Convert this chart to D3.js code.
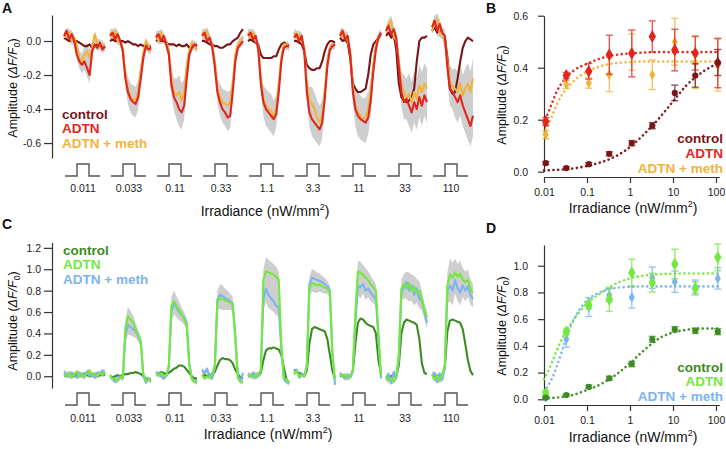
<!DOCTYPE html>
<html><head><meta charset="utf-8">
<script src="https://cdn.jsdelivr.net/npm/d3@7"></script>
<style>
body{margin:0;background:#fff;}
svg{display:block;font-family:"Liberation Sans",Arial,Helvetica,sans-serif;}
.axis path,.axis line{stroke:#333;stroke-width:1.2;}
.axis text{font-size:10.5px;fill:#222;font-family:"Liberation Sans",Arial,sans-serif;}
</style></head><body>
<svg id="chart" width="726" height="449"></svg>
<script>
// ---------- DATA ----------
const irradiance = [0.011,0.033,0.11,0.33,1.1,3.3,11,33,110];
const irrLabels = ["0.011","0.033","0.11","0.33","1.1","3.3","11","33","110"];
const seriesNames = ["control","ADTN","ADTN + meth"];

// Panel A traces (17 samples per stimulus window)
const traceA_control = [
[0.02,0.01,0.0,0.01,0.0,0.0,-0.01,-0.02,-0.03,-0.03,-0.02,-0.04,-0.03,-0.02,-0.03,-0.03,-0.04],
[0.0,0.01,0.0,0.0,0.0,0.0,-0.01,0.0,-0.01,-0.02,-0.02,-0.03,-0.02,-0.03,-0.02,-0.03,-0.04],
[0.0,0.01,0.0,0.0,-0.01,-0.02,-0.02,-0.02,-0.03,-0.02,-0.03,-0.03,-0.02,-0.04,-0.03,-0.03,-0.02],
[0.0,0.0,-0.01,-0.02,-0.02,-0.03,-0.03,-0.04,-0.04,-0.03,-0.02,-0.02,0.0,0.01,0.02,0.05,0.07],
[0.0,0.01,0.0,-0.01,-0.02,-0.08,-0.1,-0.1,-0.1,-0.1,-0.09,-0.09,-0.05,-0.02,-0.01,-0.02,-0.03],
[0.0,0.0,-0.01,-0.02,-0.06,-0.14,-0.16,-0.17,-0.17,-0.16,-0.16,-0.12,-0.06,-0.02,0.0,0.0,-0.01],
[0.02,0.0,0.01,-0.01,-0.1,-0.25,-0.28,-0.3,-0.3,-0.29,-0.28,-0.2,-0.08,-0.02,0.0,0.02,0.04],
[0.03,0.05,0.02,0.04,-0.05,-0.25,-0.33,-0.35,-0.36,-0.35,-0.33,-0.28,-0.12,0.0,0.02,0.02,0.03],
[0.06,0.08,0.05,0.07,0.04,0.02,-0.1,-0.28,-0.31,-0.3,-0.22,-0.12,-0.04,0.0,0.02,0.01,0.0]
];
const traceA_adtn = [
[0.03,0.06,0.01,0.04,0.0,-0.08,-0.12,-0.14,-0.12,-0.16,-0.2,-0.06,-0.02,-0.04,-0.01,-0.05,-0.03],
[0.03,0.05,0.01,0.04,0.0,-0.06,-0.22,-0.3,-0.34,-0.36,-0.37,-0.33,-0.22,-0.1,-0.03,-0.05,-0.04],
[0.02,0.04,0.0,0.03,-0.02,-0.08,-0.26,-0.33,-0.36,-0.4,-0.42,-0.38,-0.22,-0.08,-0.04,-0.02,-0.03],
[0.03,0.05,0.0,0.02,-0.04,-0.15,-0.3,-0.36,-0.4,-0.42,-0.45,-0.44,-0.3,-0.12,-0.04,-0.02,0.0],
[0.03,0.05,0.01,0.03,-0.05,-0.25,-0.36,-0.4,-0.42,-0.44,-0.46,-0.43,-0.3,-0.12,-0.04,-0.03,-0.03],
[0.02,0.04,0.0,0.03,-0.06,-0.3,-0.42,-0.46,-0.48,-0.5,-0.52,-0.48,-0.34,-0.15,-0.05,-0.03,-0.02],
[0.03,0.06,0.01,0.03,-0.08,-0.3,-0.4,-0.44,-0.46,-0.47,-0.48,-0.45,-0.35,-0.18,-0.05,0.02,0.05],
[0.06,0.09,0.04,0.07,0.02,-0.15,-0.3,-0.36,-0.34,-0.38,-0.42,-0.36,-0.4,-0.33,-0.38,-0.32,-0.36],
[0.08,0.12,0.06,0.1,0.05,0.03,-0.15,-0.28,-0.3,-0.33,-0.36,-0.32,-0.38,-0.42,-0.46,-0.5,-0.44]
];
const traceA_meth = [
[0.02,0.04,0.05,0.0,0.02,-0.03,-0.1,-0.12,-0.08,-0.06,-0.1,-0.04,0.04,-0.01,-0.03,-0.02,-0.04],
[0.05,0.02,0.06,0.0,-0.01,-0.04,-0.2,-0.28,-0.33,-0.34,-0.35,-0.3,-0.18,-0.07,0.0,-0.03,-0.06],
[0.04,0.0,0.05,0.01,0.0,-0.05,-0.22,-0.3,-0.32,-0.3,-0.35,-0.3,-0.15,-0.06,-0.01,-0.03,-0.05],
[0.05,0.02,0.06,0.0,-0.02,-0.12,-0.28,-0.33,-0.36,-0.37,-0.38,-0.36,-0.25,-0.08,-0.02,0.0,0.02],
[0.05,0.02,0.05,0.0,-0.03,-0.22,-0.34,-0.38,-0.4,-0.41,-0.45,-0.4,-0.26,-0.1,-0.02,-0.02,-0.04],
[0.05,0.02,0.04,0.0,-0.04,-0.25,-0.35,-0.37,-0.4,-0.45,-0.48,-0.44,-0.3,-0.12,-0.04,-0.02,-0.03],
[0.05,0.02,0.04,0.0,-0.06,-0.26,-0.38,-0.42,-0.44,-0.46,-0.45,-0.4,-0.3,-0.14,-0.03,0.03,0.04],
[0.05,0.1,0.12,0.03,0.0,-0.12,-0.26,-0.3,-0.34,-0.31,-0.36,-0.3,-0.34,-0.26,-0.3,-0.25,-0.28],
[0.06,0.1,0.13,0.05,0.04,0.0,-0.12,-0.24,-0.27,-0.28,-0.3,-0.25,-0.32,-0.28,-0.25,-0.3,-0.22]
];
const traceA_sem = [
[0.02,0.02,0.02,0.02,0.02,0.03,0.04,0.05,0.05,0.05,0.05,0.03,0.02,0.02,0.02,0.02,0.02],
[0.02,0.02,0.02,0.02,0.02,0.03,0.05,0.07,0.08,0.08,0.08,0.07,0.05,0.03,0.02,0.02,0.02],
[0.02,0.02,0.02,0.02,0.02,0.03,0.06,0.08,0.1,0.1,0.1,0.08,0.05,0.03,0.02,0.02,0.02],
[0.02,0.02,0.02,0.02,0.02,0.03,0.06,0.08,0.08,0.08,0.08,0.07,0.05,0.03,0.02,0.02,0.02],
[0.02,0.02,0.02,0.02,0.03,0.05,0.08,0.1,0.1,0.1,0.1,0.08,0.06,0.04,0.02,0.02,0.02],
[0.02,0.02,0.02,0.02,0.03,0.05,0.08,0.1,0.1,0.1,0.1,0.09,0.06,0.04,0.02,0.02,0.02],
[0.02,0.02,0.02,0.02,0.03,0.06,0.1,0.12,0.12,0.12,0.12,0.1,0.08,0.05,0.03,0.02,0.02],
[0.02,0.03,0.03,0.02,0.03,0.05,0.08,0.1,0.12,0.12,0.12,0.12,0.12,0.12,0.12,0.12,0.12],
[0.02,0.03,0.03,0.03,0.03,0.04,0.08,0.1,0.1,0.12,0.12,0.12,0.12,0.12,0.12,0.12,0.12]
];

// Panel C traces
const traceC_control = [
[0.01,0.0,0.02,0.01,0.0,0.01,0.02,0.01,0.02,0.01,0.0,0.01,0.02,0.0,0.01,0.02,0.01],
[0.0,-0.01,0.0,0.01,0.0,0.01,0.02,0.02,0.03,0.03,0.04,0.03,0.02,0.0,-0.02,-0.03,-0.03],
[0.03,0.02,0.04,0.03,0.02,0.03,0.05,0.07,0.08,0.1,0.1,0.09,0.06,0.03,0.0,-0.02,-0.02],
[0.0,0.01,0.0,0.01,0.02,0.04,0.1,0.15,0.17,0.16,0.16,0.15,0.12,0.06,0.02,-0.01,-0.02],
[0.0,0.01,0.0,0.0,0.01,0.03,0.15,0.24,0.26,0.26,0.27,0.26,0.25,0.2,0.08,-0.03,-0.06],
[0.06,0.04,0.03,0.02,0.0,0.05,0.3,0.44,0.46,0.45,0.44,0.43,0.42,0.35,0.2,0.05,-0.02],
[0.0,0.01,0.0,0.0,0.0,0.05,0.3,0.5,0.54,0.53,0.5,0.48,0.47,0.46,0.4,0.15,0.02],
[0.0,-0.01,0.0,0.01,0.0,0.1,0.4,0.5,0.53,0.52,0.51,0.5,0.48,0.35,0.12,0.03,0.02],
[0.01,0.0,0.0,0.01,0.0,0.08,0.42,0.52,0.53,0.52,0.51,0.5,0.44,0.3,0.15,0.05,0.01]
];
const traceC_adtn = [
[0.02,0.0,0.03,-0.01,0.02,0.04,0.0,0.02,-0.01,0.03,0.05,0.01,0.02,0.0,0.03,0.01,0.04],
[0.01,-0.03,-0.02,-0.04,-0.01,-0.02,0.45,0.56,0.53,0.5,0.44,0.38,0.33,0.02,-0.04,-0.03,-0.05],
[0.02,0.01,0.03,0.0,0.01,0.1,0.66,0.7,0.66,0.62,0.58,0.53,0.48,0.1,-0.03,-0.05,-0.04],
[0.01,-0.02,0.0,-0.01,0.02,0.1,0.7,0.73,0.72,0.71,0.7,0.69,0.66,0.35,-0.02,-0.05,-0.06],
[0.0,0.01,-0.01,0.02,0.0,0.05,0.9,0.98,0.97,0.96,0.95,0.93,0.9,0.3,-0.02,-0.03,-0.06],
[0.02,0.05,0.0,0.01,0.0,0.08,0.82,0.87,0.86,0.85,0.86,0.84,0.83,0.82,0.78,0.2,-0.03],
[0.02,0.0,0.01,-0.02,0.0,0.05,0.6,0.98,0.97,0.95,0.92,0.9,0.86,0.83,0.8,0.4,0.0],
[0.0,-0.04,-0.02,-0.05,0.0,0.2,0.82,0.86,0.82,0.87,0.8,0.84,0.78,0.8,0.72,0.62,0.55],
[0.02,-0.03,0.0,-0.04,0.01,0.1,0.85,0.95,0.92,0.97,0.93,0.96,0.9,0.88,0.9,0.82,0.78]
];
const traceC_meth = [
[0.04,0.02,0.0,0.03,0.01,-0.01,0.03,0.0,0.02,0.04,0.0,0.02,-0.01,0.03,0.02,0.05,0.02],
[0.0,-0.02,-0.05,-0.03,0.0,-0.02,0.38,0.48,0.46,0.44,0.42,0.37,0.32,0.0,-0.06,-0.02,-0.04],
[0.04,0.02,0.0,-0.02,0.0,0.08,0.6,0.68,0.64,0.6,0.57,0.55,0.5,0.12,-0.02,-0.04,-0.06],
[0.06,0.03,0.07,0.0,-0.02,0.08,0.72,0.76,0.75,0.73,0.72,0.7,0.68,0.38,0.0,-0.04,0.03],
[0.02,0.0,0.03,-0.01,0.02,0.05,0.72,0.82,0.76,0.73,0.7,0.66,0.64,0.25,-0.03,-0.05,-0.07],
[0.04,0.06,-0.01,0.02,0.0,0.1,0.86,0.92,0.91,0.9,0.89,0.88,0.86,0.84,0.8,0.2,-0.08],
[0.03,0.0,-0.02,0.01,-0.01,0.04,0.5,0.85,0.83,0.86,0.8,0.82,0.78,0.75,0.72,0.35,-0.02],
[-0.03,0.02,-0.06,0.04,-0.02,0.15,0.78,0.83,0.88,0.8,0.85,0.76,0.82,0.72,0.7,0.6,0.5],
[0.0,0.03,-0.05,0.02,-0.03,0.08,0.8,0.85,0.8,0.9,0.82,0.78,0.85,0.8,0.84,0.76,0.72]
];
const traceC_sem = [
[0.02,0.02,0.02,0.02,0.02,0.02,0.02,0.02,0.02,0.02,0.02,0.02,0.02,0.02,0.02,0.02,0.02],
[0.02,0.02,0.02,0.02,0.02,0.03,0.07,0.09,0.08,0.07,0.06,0.05,0.04,0.02,0.02,0.02,0.02],
[0.02,0.02,0.02,0.02,0.02,0.03,0.08,0.1,0.09,0.08,0.06,0.05,0.04,0.03,0.02,0.02,0.02],
[0.02,0.02,0.02,0.02,0.02,0.03,0.08,0.1,0.1,0.09,0.08,0.07,0.06,0.04,0.02,0.02,0.02],
[0.02,0.02,0.02,0.02,0.02,0.04,0.1,0.13,0.12,0.11,0.1,0.09,0.08,0.04,0.02,0.02,0.02],
[0.02,0.02,0.02,0.02,0.02,0.03,0.07,0.08,0.08,0.07,0.07,0.06,0.06,0.05,0.05,0.03,0.02],
[0.02,0.02,0.02,0.02,0.02,0.03,0.08,0.1,0.1,0.09,0.09,0.08,0.08,0.07,0.06,0.04,0.02],
[0.02,0.02,0.02,0.02,0.02,0.04,0.08,0.1,0.1,0.1,0.1,0.1,0.09,0.09,0.08,0.07,0.06],
[0.02,0.02,0.02,0.02,0.02,0.04,0.12,0.15,0.14,0.13,0.12,0.12,0.11,0.1,0.1,0.09,0.08]
];

// Panel B dose-response (mean, sem)
const ampB_control = [0.033,0.014,0.029,0.069,0.11,0.177,0.303,0.37,0.42];
const errB_control = [0.006,0.005,0.006,0.008,0.01,0.012,0.03,0.045,0.05];
const ampB_adtn = [0.193,0.37,0.386,0.45,0.455,0.52,0.468,0.456,0.418];
const errB_adtn = [0.015,0.012,0.03,0.075,0.09,0.06,0.08,0.065,0.095];
const ampB_meth = [0.142,0.335,0.341,0.373,0.46,0.373,0.50,0.42,0.41];
const errB_meth = [0.015,0.015,0.02,0.065,0.07,0.057,0.09,0.1,0.1];

// Fitted curves
const fitX = [0.01,0.015,0.02,0.03,0.05,0.1,0.2,0.5,1,2,5,10,20,50,120];
const fitB_control = [0.005,0.006,0.007,0.009,0.013,0.022,0.035,0.062,0.095,0.14,0.21,0.27,0.33,0.385,0.42];
const fitB_adtn = [0.185,0.26,0.31,0.355,0.39,0.415,0.435,0.45,0.455,0.458,0.46,0.46,0.46,0.46,0.46];
const fitB_meth = [0.145,0.21,0.26,0.31,0.35,0.385,0.405,0.418,0.422,0.424,0.424,0.424,0.424,0.424,0.424];

// Panel D dose-response
const ampD_control = [0.012,0.032,0.094,0.157,0.264,0.449,0.524,0.513,0.506];
const errD_control = [0.006,0.008,0.012,0.015,0.02,0.022,0.02,0.02,0.022];
const ampD_adtn = [0.045,0.506,0.706,0.748,0.948,0.873,1.013,0.83,1.063];
const errD_adtn = [0.02,0.02,0.03,0.09,0.1,0.07,0.11,0.05,0.1];
const ampD_meth = [0.015,0.45,0.69,0.78,0.763,0.91,0.88,0.843,0.905];
const errD_meth = [0.01,0.06,0.07,0.05,0.08,0.08,0.08,0.05,0.08];
const fitD_control = [0.008,0.01,0.013,0.02,0.035,0.07,0.11,0.19,0.27,0.36,0.46,0.5,0.52,0.53,0.53];
const fitD_adtn = [0.15,0.27,0.37,0.49,0.6,0.72,0.79,0.87,0.905,0.925,0.937,0.94,0.942,0.942,0.942];
const fitD_meth = [0.06,0.15,0.25,0.42,0.6,0.74,0.8,0.835,0.842,0.845,0.845,0.845,0.845,0.845,0.845];

const colorsRed = ["#7a1518","#e1261f","#f1b33b"];
const colorsGreen = ["#3e8b22","#74e83e","#7cb4ef"];

// ---------- DRAW ----------
const svg = d3.select("#chart");

function panelLetter(t, x, y){
  svg.append("text").attr("x",x).attr("y",y).text(t)
    .attr("font-size",14).attr("font-weight","bold").attr("fill","#111");
}
panelLetter("A",2,13); panelLetter("B",486,13); panelLetter("C",2,229); panelLetter("D",486,233);

function yLabel(x, cy){
  const t = svg.append("text").attr("transform",`translate(${x},${cy}) rotate(-90)`)
    .attr("text-anchor","middle").attr("font-size",12.5).attr("fill","#111");
  t.append("tspan").text("Amplitude (");
  t.append("tspan").attr("font-style","italic").text("\u0394F/F");
  t.append("tspan").attr("font-size",8.5).attr("dy",3).text("0");
  t.append("tspan").attr("dy",-3).text(")");
}
function xTitle(cx, y){
  const t = svg.append("text").attr("x",cx).attr("y",y).attr("text-anchor","middle")
    .attr("font-size",14).attr("fill","#111");
  t.append("tspan").text("Irradiance (nW/mm");
  t.append("tspan").attr("font-size",9).attr("dy",-6).text("2");
  t.append("tspan").attr("dy",6).text(")");
}
function legend(x, y0, step, colors, anchor){
  seriesNames.forEach((n,i)=>{
    svg.append("text").attr("x",x).attr("y",y0+i*step).text(n)
      .attr("text-anchor",anchor).attr("font-size",13.5).attr("font-weight","bold")
      .attr("fill",colors[i]);
  });
}

// segment band scale shared by A and C
const xSeg = d3.scaleBand().domain(irrLabels).range([64,473]).paddingInner(0.1087);
const xt = d3.scaleLinear().domain([0,16]).range([0,xSeg.bandwidth()]);

function tracePanel(y, ctrl, adtn, meth, sem, colors, iconBase, labelY){
  const g = svg.append("g");
  irrLabels.forEach((lab,s)=>{
    const x0 = xSeg(lab);
    const idx = d3.range(17);
    const area = d3.area()
      .x(i=>x0+xt(i))
      .y0(i=>y(Math.min(adtn[s][i],meth[s][i]) - sem[s][i]))
      .y1(i=>y(Math.max(adtn[s][i],meth[s][i]) + sem[s][i]));
    g.append("path").datum(idx).attr("d",area).attr("fill","#c9c9c9").attr("opacity",0.9);
  });
  [ctrl, meth, adtn].forEach((series,k)=>{
    const col = [colors[0],colors[2],colors[1]][k];
    irrLabels.forEach((lab,s)=>{
      const x0 = xSeg(lab);
      const line = d3.line().x((d,i)=>x0+xt(i)).y(d=>y(d));
      g.append("path").datum(series[s]).attr("d",line).attr("fill","none")
        .attr("stroke",col).attr("stroke-width",2.1).attr("stroke-linejoin","round");
    });
  });
  irrLabels.forEach((lab,s)=>{
    const c = xSeg(lab)+19;
    const pts = [[c-18,iconBase],[c-6,iconBase],[c-6,iconBase-12],[c+6,iconBase-12],[c+6,iconBase],[c+17,iconBase]];
    svg.append("path").attr("d",d3.line()(pts)).attr("fill","none").attr("stroke","#555").attr("stroke-width",1.4);
    svg.append("text").attr("x",c).attr("y",labelY).attr("text-anchor","middle")
      .attr("font-size",10.5).attr("fill","#222").text(lab);
  });
}

// ---- Panel A ----
const yA = d3.scaleLinear().domain([-0.688,0.153]).range([158,15]);
svg.append("g").attr("class","axis").attr("transform","translate(52,0)")
  .call(d3.axisLeft(yA).tickValues([0,-0.2,-0.4,-0.6]).tickFormat(d=>d.toFixed(1)).tickSize(8).tickPadding(3).tickSizeOuter(0));
tracePanel(yA, traceA_control, traceA_adtn, traceA_meth, traceA_sem, colorsRed, 176, 192);
yLabel(17, 88);
xTitle(265, 216);
legend(62, 118.5, 14.5, colorsRed, "start");

// ---- Panel C ----
const yC = d3.scaleLinear().domain([-0.11,1.25]).range([388,242.5]);
svg.append("g").attr("class","axis").attr("transform","translate(52,0)")
  .call(d3.axisLeft(yC).tickValues([0,0.2,0.4,0.6,0.8,1.0,1.2]).tickFormat(d=>d.toFixed(1)).tickSize(8).tickPadding(3).tickSizeOuter(0));
tracePanel(yC, traceC_control, traceC_adtn, traceC_meth, traceC_sem, colorsGreen, 405, 422);
yLabel(17, 321);
xTitle(268, 439);
legend(63, 254.5, 14.5, colorsGreen, "start");

// ---- Dose-response panels ----
function dosePanel(y, xAxisY, yTicks, amps, errs, fits, colors, legendY, legendStep){
  const x = d3.scaleLog().domain([0.01,120]).range([544,719.4]);
  svg.append("g").attr("class","axis").attr("transform","translate(544,0)")
    .call(d3.axisLeft(y).tickValues(yTicks).tickFormat(d=>d.toFixed(1)).tickSize(6).tickPadding(10).tickSizeOuter(0));
  svg.append("g").attr("class","axis").attr("transform",`translate(0,${xAxisY})`)
    .call(d3.axisBottom(x).tickValues([0.01,0.1,1,10,100]).tickFormat(d=>String(d)).tickSize(6).tickPadding(6).tickSizeOuter(0));
  const g = svg.append("g");
  fits.forEach((f,k)=>{
    g.append("path").datum(f).attr("d", d3.line().curve(d3.curveMonotoneX).x((d,i)=>x(fitX[i])).y(d=>y(d)))
      .attr("fill","none").attr("stroke",colors[k]).attr("stroke-width",2.6)
      .attr("stroke-dasharray","0.1,4.6").attr("stroke-linecap","round").attr("opacity",0.95);
  });
  const order = [2,1,0];
  order.forEach(k=>{
    const col = colors[k];
    amps[k].forEach((v,i)=>{
      const cx = x(irradiance[i]);
      const e = errs[k][i];
      const eg = g.append("g").attr("stroke",col).attr("stroke-width",1.4).attr("opacity",0.75);
      eg.append("line").attr("x1",cx).attr("x2",cx).attr("y1",y(v-e)).attr("y2",y(v+e));
      eg.append("line").attr("x1",cx-3.5).attr("x2",cx+3.5).attr("y1",y(v-e)).attr("y2",y(v-e));
      eg.append("line").attr("x1",cx-3.5).attr("x2",cx+3.5).attr("y1",y(v+e)).attr("y2",y(v+e));
      const sym = k===0 ? d3.symbol(d3.symbolCircle,30) : (k===1 ? d3.symbol(d3.symbolDiamond,48) : d3.symbol(d3.symbolDiamond,32));
      g.append("path").attr("d",sym()).attr("transform",`translate(${cx},${y(v)})`).attr("fill",col);
    });
  });
  legend(723, legendY, legendStep, colors, "end");
}

const yB = d3.scaleLinear().domain([0,0.6]).range([171.7,15.7]);
dosePanel(yB, 177, [0,0.2,0.4,0.6], [ampB_control,ampB_adtn,ampB_meth], [errB_control,errB_adtn,errB_meth],
  [fitB_control,fitB_adtn,fitB_meth], colorsRed, 143, 15);
yLabel(506, 95);
xTitle(633, 213);

const yD = d3.scaleLinear().domain([0,1.155]).range([399.3,245]);
dosePanel(yD, 405, [0,0.2,0.4,0.6,0.8,1.0], [ampD_control,ampD_adtn,ampD_meth], [errD_control,errD_adtn,errD_meth],
  [fitD_control,fitD_adtn,fitD_meth], colorsGreen, 371.5, 14.5);
yLabel(506, 326);
xTitle(633, 442);
</script>
</body></html>
